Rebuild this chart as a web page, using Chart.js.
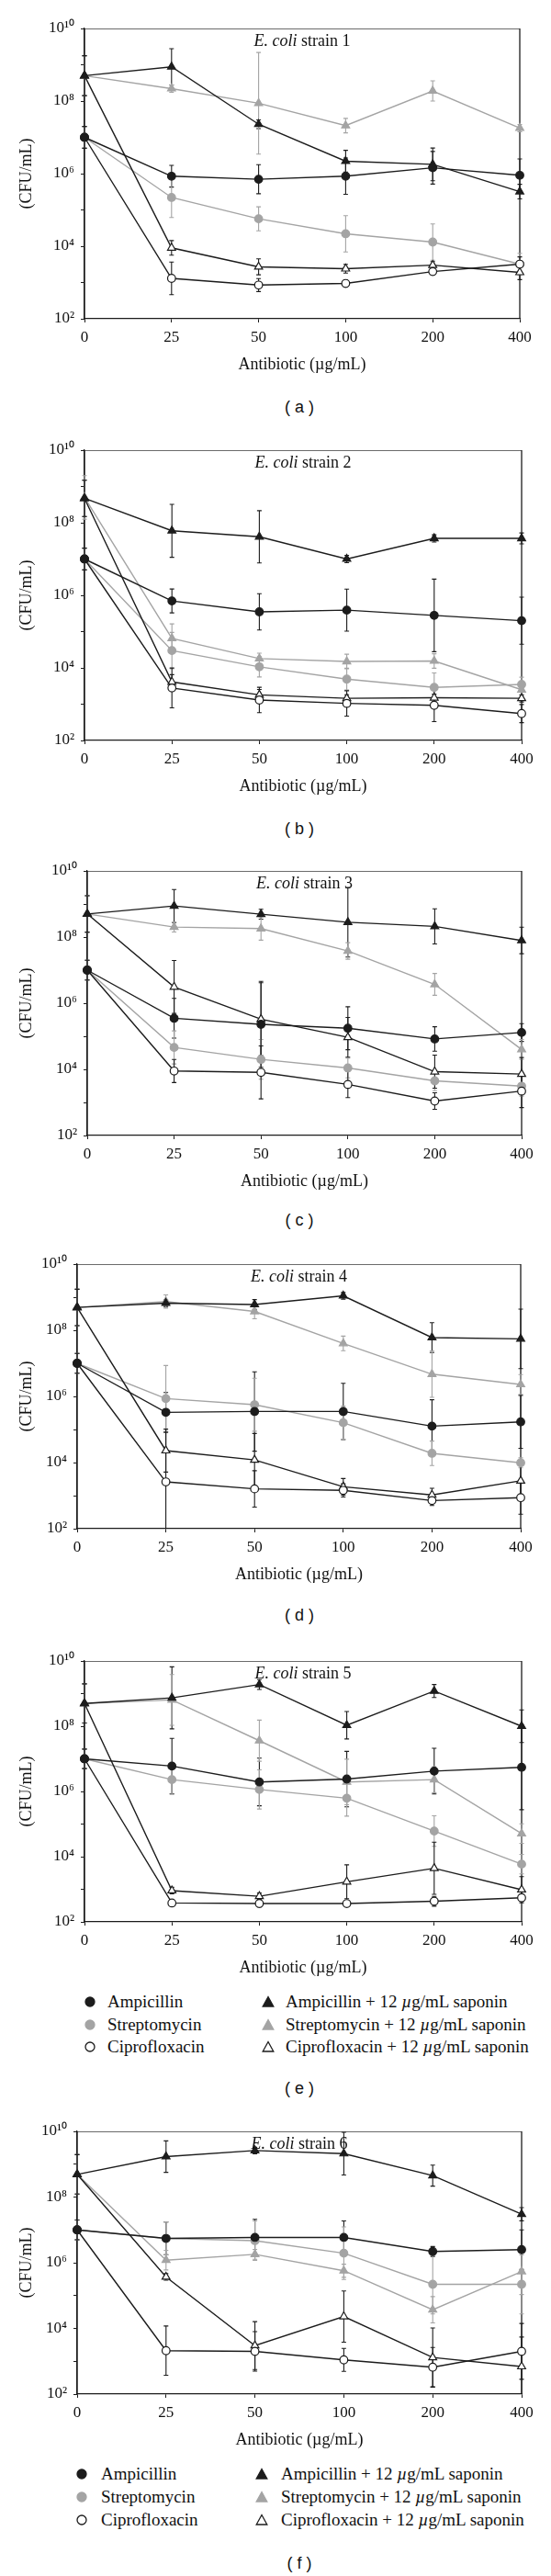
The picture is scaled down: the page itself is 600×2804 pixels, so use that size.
<!DOCTYPE html>
<html><head><meta charset="utf-8">
<script src="https://cdn.jsdelivr.net/npm/chart.js@4.4.0/dist/chart.umd.min.js"></script>
<style>
html,body{margin:0;padding:0;background:#fff;}
body{width:600px;height:2804px;position:relative;overflow:hidden;font-family:'Liberation Serif','Times New Roman',serif;}
canvas{position:absolute;left:0;}
.lab{position:absolute;left:226px;width:200px;text-align:center;font-family:'Liberation Sans',Arial,sans-serif;font-size:18px;color:#111;line-height:22px;height:22px;}
.legt{position:absolute;font-family:'Liberation Serif','Times New Roman',serif;font-size:19px;color:#111;line-height:24px;height:24px;white-space:nowrap;}
.legm{position:absolute;width:14px;height:14px;}
</style></head><body>
<script>
// ---- data ----
const doses = ['0','25','50','100','200','400'];
const yTicks = [1e2,1e3,1e4,1e5,1e6,1e7,1e8,1e9,1e10];
const seriesNames = ['Ampicillin','Streptomycin','Ciprofloxacin','Ampicillin + 12 <i>µ</i>g/mL saponin','Streptomycin + 12 <i>µ</i>g/mL saponin','Ciprofloxacin + 12 <i>µ</i>g/mL saponin'];
const strainTitles = ['strain 1','strain 2','strain 3','strain 4','strain 5','strain 6'];
const panelLetters = ['a','b','c','d','e','f'];

// strain 1
const a_amp    = [1e7, 8.5e5, 7e5, 8.5e5, 1.45e6, 9e5];
const a_strep  = [1e7, 2.2e5, 5.7e4, 2.2e4, 1.3e4, 3.2e3];
const a_cipro  = [1e7, 1.3e3, 850, 940, 2e3, 3.2e3];
const a_ampS   = [5e8, 8.8e8, 2.3e7, 2.2e6, 1.8e6, 3.2e5];
const a_strepS = [5e8, 2.2e8, 8.7e7, 2.1e7, 1.9e8, 1.8e7];
const a_ciproS = [5e8, 9e3, 2.7e3, 2.4e3, 3e3, 1.9e3];
// strain 2
const b_amp    = [1e7, 7e5, 3.5e5, 3.9e5, 2.8e5, 2e5];
const b_strep  = [1e7, 3e4, 1.07e4, 4.9e3, 2.9e3, 3.5e3];
const b_cipro  = [1e7, 2.8e3, 1.3e3, 1.05e3, 930, 550];
const b_ampS   = [4.7e8, 6e7, 4.1e7, 1e7, 3.7e7, 3.7e7];
const b_strepS = [5e8, 6.5e4, 1.8e4, 1.5e4, 1.55e4, 2.5e3];
const b_ciproS = [4.7e8, 4.1e3, 1.8e3, 1.45e3, 1.5e3, 1.45e3];
// strain 3
const c_amp    = [1e7, 3.5e5, 2.3e5, 1.75e5, 8.3e4, 1.3e5];
const c_strep  = [1e7, 4.6e4, 2e4, 1.1e4, 4.5e3, 3.1e3];
const c_cipro  = [1e7, 8.9e3, 8.1e3, 3.5e3, 1.1e3, 2.2e3];
const c_ampS   = [5e8, 8.7e8, 4.9e8, 2.8e8, 2.1e8, 7.9e7];
const c_strepS = [5e8, 2e8, 1.8e8, 3.8e7, 3.7e6, 4e4];
const c_ciproS = [5e8, 3.1e6, 3.3e5, 9.3e4, 8.5e3, 7.2e3];
// strain 4
const d_amp    = [1e7, 3.3e5, 3.5e5, 3.5e5, 1.26e5, 1.7e5];
const d_strep  = [1e7, 8.6e5, 5.6e5, 1.6e5, 1.9e4, 9.8e3];
const d_cipro  = [1e7, 2.6e3, 1.6e3, 1.44e3, 710, 870];
const d_ampS   = [4.9e8, 6.6e8, 6e8, 1.1e9, 6e7, 5.5e7];
const d_strepS = [4.9e8, 7.4e8, 3.7e8, 4e7, 4.7e6, 2.3e6];
const d_ciproS = [4.9e8, 2.3e4, 1.2e4, 1.85e3, 1.05e3, 2.8e3];
// strain 5
const e_amp    = [1e7, 6e6, 1.95e6, 2.4e6, 4.2e6, 5.5e6];
const e_strep  = [1e7, 2.3e6, 1.15e6, 6.2e5, 6.1e4, 5.9e3];
const e_cipro  = [1e7, 380, 365, 365, 430, 550];
const e_ampS   = [5e8, 7.4e8, 1.9e9, 1.07e8, 1.2e9, 1e8];
const e_strepS = [5e8, 6.4e8, 3.6e7, 1.95e6, 2.3e6, 5.1e4];
const e_ciproS = [5e8, 910, 610, 1.7e3, 4.4e3, 970];
// strain 6
const f_amp    = [1e7, 5.5e6, 5.9e6, 5.9e6, 2.2e6, 2.5e6];
const f_strep  = [1e7, 5.5e6, 4.7e6, 1.95e6, 2.2e5, 2.2e5];
const f_cipro  = [1e7, 2.1e3, 2e3, 1.1e3, 660, 2e3];
const f_ampS   = [4.9e8, 1.7e9, 2.6e9, 2.1e9, 4.5e8, 3e7];
const f_strepS = [4.9e8, 1.2e6, 1.8e6, 5.7e5, 3.7e4, 5.4e5];
const f_ciproS = [4.9e8, 3.7e5, 3e3, 2.3e4, 1.3e3, 690];

// error bars (half-width, in decades)
const a_err = [[0.3,0.3,0.4,0.5,0.45,0.45],[0.3,0.55,0.33,0.5,0.5,0.3],[0.3,0.45,0.18,0.1,0.1,0.2],[0.55,0.5,0.12,0.3,0.45,0.2],[0.55,0.1,1.4,0.2,0.28,0.1],[0.55,0.2,0.22,0.12,0.1,0.2]];
const b_err = [[0.3,0.33,0.5,0.58,1.0,0.65],[0.3,0.5,0.28,0.3,0.4,0.2],[0.3,0.55,0.35,0.35,0.45,0.25],[0.5,0.73,0.72,0.1,0.1,0.15],[0.6,0.4,0.15,0.2,0.2,0.15],[0.5,0.2,0.15,0.1,0.1,0.1]];
const c_err = [[0.3,0.6,1.3,0.65,0.37,0.27],[0.3,0.5,0.6,0.3,0.3,0.3],[0.3,0.35,0.8,0.4,0.25,0.5],[0.55,0.5,0.15,1.05,0.53,0.4],[0.55,0.15,0.35,0.25,0.33,0.3],[0.55,0.8,1.1,0.6,0.5,0.5]];
const d_err = [[0.3,0.6,1.2,0.85,0.8,0.8],[0.3,1.0,0.8,0.5,0.37,0.15],[0.3,1.5,0.55,0.2,0.15,0.5],[0.55,0.1,0.15,0.1,0.45,0.9],[0.55,0.2,0.22,0.22,0.7,0.3],[0.55,0.65,0.8,0.25,0.2,0.6]];
const e_err = [[0.3,0.85,0.73,0.85,0.7,1.3],[0.3,0.45,0.6,0.55,0.47,0.3],[0.3,0.05,0.1,0.05,0.15,0.1],[0.6,0.95,0.15,0.42,0.2,0.5],[0.6,0.78,0.63,0.7,0.4,0.3],[0.6,0.1,0.1,0.52,0.8,0.4]];
const f_err = [[0.3,0.5,0.55,0.5,0.15,0.6],[0.3,0.5,0.6,0.8,0.9,0.9],[0.3,0.75,0.6,0.35,0.6,0.85],[0.6,0.48,0.1,0.65,0.32,0.2],[0.6,0.3,0.15,0.2,0.4,0.7],[0.6,0.1,0.73,0.78,0.9,0.9]];

const panelData = [
  [a_amp,a_strep,a_cipro,a_ampS,a_strepS,a_ciproS],
  [b_amp,b_strep,b_cipro,b_ampS,b_strepS,b_ciproS],
  [c_amp,c_strep,c_cipro,c_ampS,c_strepS,c_ciproS],
  [d_amp,d_strep,d_cipro,d_ampS,d_strepS,d_ciproS],
  [e_amp,e_strep,e_cipro,e_ampS,e_strepS,e_ciproS],
  [f_amp,f_strep,f_cipro,f_ampS,f_strepS,f_ciproS]
];
const panelErr = [a_err,b_err,c_err,d_err,e_err,f_err];

// ---- layout & style (not data) ----
const layout = [
  {L:92, R:566, T:31,   B:347,  lab:443},
  {L:92, R:568, T:490,  B:806,  lab:902},
  {L:95, R:568, T:948,  B:1236, lab:1328},
  {L:84, R:567, T:1376, B:1664, lab:1758},
  {L:92, R:568, T:1808, B:2092, lab:2273},
  {L:84, R:568, T:2320, B:2606, lab:2790}
];
const legends = [
  {panel:4, rows:[2179,2204,2228], m1:98, t1:117, m2:292, t2:311},
  {panel:5, rows:[2693,2718,2743], m1:89, t1:110, m2:285, t2:306}
];
const BLACK='#1c1c1c', GRAY='#a4a4a4';
const styles = [
  {col:BLACK, fill:BLACK, shape:'circle', order:0},
  {col:GRAY,  fill:GRAY,  shape:'circle', order:2},
  {col:BLACK, fill:'#fff', shape:'circle', order:0},
  {col:BLACK, fill:BLACK, shape:'triangle', order:0},
  {col:GRAY,  fill:GRAY,  shape:'triangle', order:2},
  {col:BLACK, fill:'#fff', shape:'triangle', order:0}
];
const SERIF = "'Liberation Serif','Times New Roman',serif";
const sup = {'0':'⁰','1':'¹','2':'²','3':'³','4':'⁴','5':'⁵','6':'⁶','7':'⁷','8':'⁸','9':'⁹'};
function supStr(n){return String(n).split('').map(c=>sup[c]).join('');}

const errPlugin = {
  id:'errbars',
  beforeDatasetsDraw(chart){
    const ctx=chart.ctx, ys=chart.scales.y, ca=chart.chartArea;
    ctx.save();
    ctx.beginPath(); ctx.rect(ca.left-10, ca.top, ca.right-ca.left+20, ca.bottom-ca.top); ctx.clip();
    ctx.strokeStyle=BLACK; ctx.lineWidth=1.3;
    ctx.strokeRect(ca.left, ca.top, ca.right-ca.left, ca.bottom-ca.top);
    chart.data.datasets.forEach((ds,i)=>{
      const meta=chart.getDatasetMeta(i);
      ctx.strokeStyle=ds.borderColor; ctx.lineWidth=1.1;
      meta.data.forEach((pt,j)=>{
        const e=ds.err[j]; if(!e) return;
        const v=ds.data[j];
        const y1=ys.getPixelForValue(v*Math.pow(10,e)), y2=ys.getPixelForValue(v/Math.pow(10,e));
        ctx.beginPath();
        ctx.moveTo(pt.x,y1); ctx.lineTo(pt.x,y2);
        ctx.moveTo(pt.x-2.5,y1); ctx.lineTo(pt.x+2.5,y1);
        ctx.moveTo(pt.x-2.5,y2); ctx.lineTo(pt.x+2.5,y2);
        ctx.stroke();
      });
    });
    ctx.restore();
  },
  afterDraw(chart){
    const ctx=chart.ctx, ca=chart.chartArea;
    const t=chart.options.plugins.errbars.strain;
    ctx.save();
    ctx.fillStyle='#111'; ctx.textBaseline='middle';
    const f1='italic 18px '+SERIF, f2='18px '+SERIF;
    ctx.font=f1; const w1=ctx.measureText('E. coli').width;
    ctx.font=f2; const w2=ctx.measureText(' '+t).width;
    const x0=(ca.left+ca.right)/2-(w1+w2)/2, y0=ca.top+14;
    ctx.font=f1; ctx.fillText('E. coli',x0,y0);
    ctx.font=f2; ctx.fillText(' '+t,x0+w1,y0);
    ctx.restore();
  }
};

layout.forEach((p,k)=>{
  const cv=document.createElement('canvas');
  const top=p.T-30, h=p.B-p.T+95;
  cv.width=600; cv.height=h; cv.style.top=top+'px'; cv.style.width='600px'; cv.style.height=h+'px';
  document.body.appendChild(cv);
  const datasets=panelData[k].map((d,i)=>({
    label: seriesNames[i].replace(/<\/?i>/g,''),
    data:d, err:panelErr[k][i],
    borderColor:styles[i].col, backgroundColor:styles[i].fill,
    pointBackgroundColor:styles[i].fill, pointBorderColor:styles[i].col,
    pointStyle:styles[i].shape, pointRadius:styles[i].shape==='triangle'?5:4.3,
    pointBorderWidth:1.2, borderWidth:1.4, tension:0, fill:false, clip:false,
    order:styles[i].order
  }));
  new Chart(cv,{
    type:'line',
    data:{labels:doses, datasets},
    plugins:[errPlugin],
    options:{
      responsive:false, animation:false, devicePixelRatio:1,
      layout:{padding:{top:30,left:0,right:600-p.R,bottom:0}},
      plugins:{legend:{display:false}, tooltip:{enabled:false}, errbars:{strain:strainTitles[k]}},
      scales:{
        x:{type:'category', offset:false,
           grid:{display:true, drawOnChartArea:false, drawTicks:true, tickLength:4, color:BLACK, offset:false},
           border:{display:true, color:BLACK, width:1.3},
           ticks:{font:{family:SERIF,size:17}, color:'#111', padding:6, maxRotation:0, autoSkip:false},
           title:{display:true, text:'Antibiotic (µg/mL)', font:{family:SERIF,size:18}, color:'#111', padding:{top:0,bottom:4}},
           afterFit(s){s.height=65;}
        },
        y:{type:'logarithmic', min:1e2, max:1e10,
           afterBuildTicks(s){s.ticks=yTicks.map(v=>({value:v}));},
           grid:{display:true, drawOnChartArea:false, drawTicks:true, tickLength:4, color:BLACK},
           border:{display:true, color:BLACK, width:1.3},
           ticks:{font:{family:SERIF,size:17}, color:'#111', padding:7, autoSkip:false,
                  callback(v){const e=Math.round(Math.log10(v)); return e%2===0?'10'+supStr(e):'';}},
           title:{display:true, text:'(CFU/mL)', font:{family:SERIF,size:18}, color:'#111', padding:{top:18,bottom:0}},
           afterFit(s){s.width=p.L;}
        }
      }
    }
  });
  const lab=document.createElement('div');
  lab.className='lab'; lab.style.top=(p.lab-11)+'px';
  lab.textContent='( '+panelLetters[k]+' )';
  document.body.appendChild(lab);
});

function markerSVG(st){
  const s=st.shape==='circle'
    ? `<circle cx="7" cy="7" r="5" fill="${st.fill}" stroke="${st.col}" stroke-width="1.3"/>`
    : `<polygon points="7,1.5 12.8,12 1.2,12" fill="${st.fill}" stroke="${st.col}" stroke-width="1.3"/>`;
  return `<svg width="14" height="14" viewBox="0 0 14 14">${s}</svg>`;
}
legends.forEach(lg=>{
  seriesNames.forEach((name,i)=>{
    const col=i<3?0:1, row=i%3, y=lg.rows[row];
    const m=document.createElement('div'); m.className='legm';
    m.style.left=((col?lg.m2:lg.m1)-7)+'px'; m.style.top=(y-7)+'px';
    m.innerHTML=markerSVG(styles[i]);
    document.body.appendChild(m);
    const t=document.createElement('div'); t.className='legt';
    t.style.left=(col?lg.t2:lg.t1)+'px'; t.style.top=(y-12)+'px';
    t.innerHTML=name;
    document.body.appendChild(t);
  });
});
</script>
</body></html>
